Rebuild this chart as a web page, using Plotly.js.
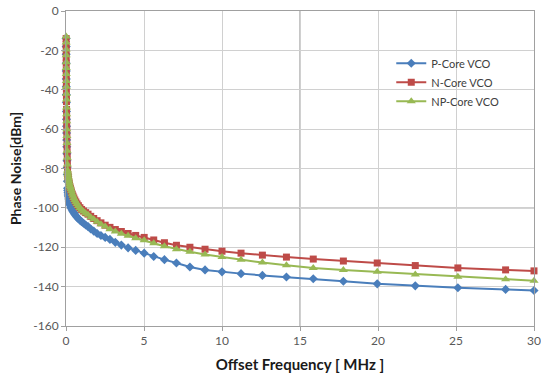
<!DOCTYPE html>
<html>
<head>
<meta charset="utf-8">
<script src="https://cdn.plot.ly/plotly-3.0.1.min.js"></script>
<style>html,body{margin:0;padding:0;background:#fff}#chart{width:541px;height:377px}</style>
</head>
<body>
<div id="chart"></div>
<script>
// Offset frequency (MHz), 20 points per decade, plus the 30 MHz end point
const freqMHz = [0.01,0.01122,0.01259,0.01413,0.01585,0.01778,0.01995,0.02239,0.02512,0.02818,
0.03162,0.03548,0.03981,0.04467,0.05012,0.05623,0.0631,0.07079,0.07943,0.08913,
0.1,0.1122,0.1259,0.1413,0.1585,0.1778,0.1995,0.2239,0.2512,0.2818,
0.3162,0.3548,0.3981,0.4467,0.5012,0.5623,0.631,0.7079,0.7943,0.8913,
1,1.122,1.259,1.413,1.585,1.778,1.995,2.239,2.512,2.818,
3.162,3.548,3.981,4.467,5.012,5.623,6.31,7.079,7.943,8.913,
10,11.22,12.59,14.13,15.85,17.78,19.95,22.39,25.12,28.18,30];

const pCore = [-14,-18,-22,-26.5,-30.5,-34.5,-38.5,-42.5,-46.5,-51,
-55,-58.5,-62,-65.5,-69,-72.5,-76,-79.5,-83,-86.5,
-90,-91.2,-92.3,-93.4,-94.4,-95.5,-96.5,-97.3,-98.1,-98.9,
-99.7,-100.4,-101.1,-101.8,-102.5,-103.3,-104,-104.8,-105.5,-106.3,
-107,-107.8,-108.7,-109.5,-110.7,-111.8,-113,-114,-115,-116,
-117.5,-118.9,-120.3,-121.6,-123,-124.7,-126.3,-128,-130,-131.5,
-132.5,-133.4,-134.3,-135.1,-136,-137.3,-138.6,-139.6,-140.6,-141.4,-142];

const nCore = [-14,-17,-20,-23.5,-26.5,-30,-33,-36.5,-39.5,-43,
-46,-50,-53.5,-57,-60.5,-64,-68,-71.5,-75,-78.5,
-82,-83,-84,-85,-85.8,-86.7,-87.5,-88.4,-89.3,-90.1,
-91,-92,-93,-94,-95,-96,-97,-98,-98.9,-99.9,
-100.8,-101.6,-102.4,-103.2,-104.3,-105.4,-106.5,-107.6,-108.8,-109.9,
-111,-112,-113,-114,-115,-116.3,-117.7,-119,-120,-121,
-122,-123,-124,-125,-126,-127,-128,-129.3,-130.5,-131.5,-132];

const npCore = [-13,-16,-19.5,-22.5,-26,-29,-32,-35.5,-38.5,-42,
-45,-49,-52.5,-56,-60,-63.5,-67,-71,-74.5,-78,
-81,-82,-83,-84,-85,-86,-87,-88,-88.9,-89.7,
-90.5,-91.6,-92.8,-93.9,-95,-96,-97,-98,-99,-100,
-101,-101.8,-102.7,-103.5,-104.7,-105.8,-107,-108.3,-109.5,-110.8,
-112,-113.1,-114.2,-115.4,-116.5,-118,-119.5,-121,-122.3,-123.7,
-125,-126.4,-127.8,-129.1,-130.5,-131.5,-132.5,-133.8,-135,-136.3,-137];

const seriesNames = ['P-Core VCO','N-Core VCO','NP-Core VCO'];
const xTicks = [0,5,10,15,20,25,30];
const yTicks = [-160,-140,-120,-100,-80,-60,-40,-20,0];

const traces = [
  {x: freqMHz, y: pCore, name: seriesNames[0], mode: 'lines+markers', cliponaxis: false,
   line: {color: '#4A7EBB', width: 2}, marker: {symbol: 'diamond', size: 7, color: '#4A7EBB'}},
  {x: freqMHz, y: nCore, name: seriesNames[1], mode: 'lines+markers', cliponaxis: false,
   line: {color: '#BE4B48', width: 2}, marker: {symbol: 'square', size: 7, color: '#BE4B48'}},
  {x: freqMHz, y: npCore, name: seriesNames[2], mode: 'lines+markers', cliponaxis: false,
   line: {color: '#98B954', width: 2}, marker: {symbol: 'triangle-up', size: 8, color: '#98B954'}}
];

const layout = {
  width: 541, height: 377,
  margin: {l: 66, r: 7, t: 11, b: 51},
  paper_bgcolor: '#ffffff', plot_bgcolor: '#ffffff',
  font: {family: 'Lato, "Open Sans", sans-serif', color: '#595959', size: 12},
  showlegend: true,
  legend: {x: 0.695, y: 0.88, xanchor: 'left', yanchor: 'top', bgcolor: 'rgba(0,0,0,0)',
           font: {size: 11, color: '#404040'}, itemwidth: 30, tracegroupgap: 0},
  xaxis: {range: [0, 30], tickvals: xTicks, ticktext: xTicks.map(String),
          showgrid: true, gridcolor: '#D0D0D0', gridwidth: 1,
          showline: true, linecolor: '#A0A0A0', linewidth: 1, mirror: true,
          ticks: 'outside', ticklen: 4, tickcolor: '#A0A0A0', zeroline: false,
          tickfont: {size: 12, color: '#595959'},
          title: {text: 'Offset Frequency [ MHz ]', font: {size: 15, color: '#1a1a1a', family: 'Lato, sans-serif', weight: 'bold'}, standoff: 12}},
  yaxis: {range: [-160, 0], tickvals: yTicks, ticktext: yTicks.map(String),
          showgrid: true, gridcolor: '#D0D0D0', gridwidth: 1,
          showline: true, linecolor: '#A0A0A0', linewidth: 1, mirror: true,
          ticks: 'outside', ticklen: 4, tickcolor: '#A0A0A0', zeroline: false,
          tickfont: {size: 12, color: '#595959'},
          title: {text: 'Phase Noise[dBm]', font: {size: 14, color: '#1a1a1a', family: 'Lato, sans-serif', weight: 'bold'}, standoff: 8}},
  shapes: [
    {type: 'line', xref: 'x', yref: 'paper', x0: 15, x1: 15, y0: 0, y1: 1, line: {color: '#8C8C8C', width: 1}, layer: 'below'},
    {type: 'line', xref: 'paper', yref: 'y', x0: 0, x1: 1, y0: -100, y1: -100, line: {color: '#8C8C8C', width: 1}, layer: 'below'}
  ]
};

Plotly.newPlot('chart', traces, layout, {displayModeBar: false, staticPlot: true});
</script>
</body>
</html>
